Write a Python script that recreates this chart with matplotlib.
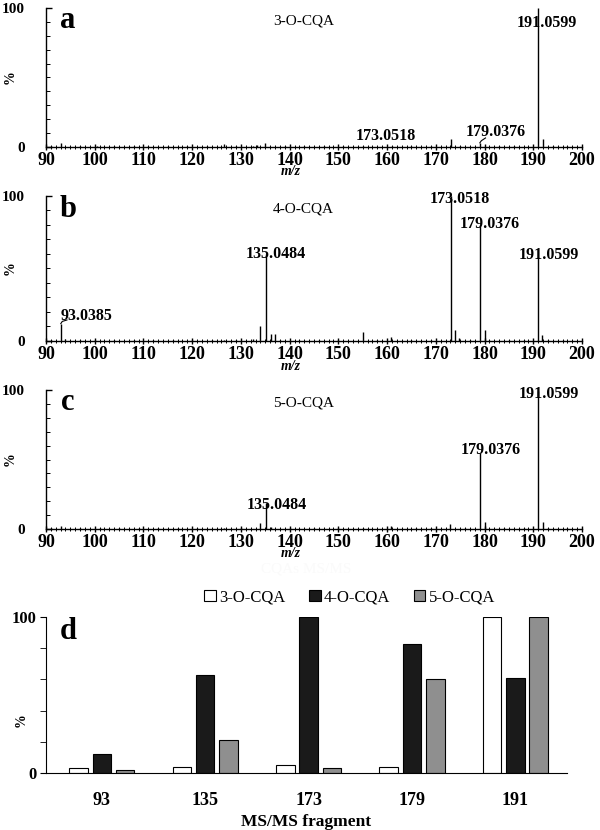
import matplotlib
matplotlib.use("Agg")
import matplotlib.pyplot as plt
from matplotlib.ticker import MultipleLocator, FixedLocator
from matplotlib.patches import Patch
import numpy as np

plt.rcParams['font.family'] = ['Liberation Serif', 'DejaVu Serif']

# ---------------- data ----------------
# panel a : 3-O-CQA
a_mz = [91.0, 93.0, 97.0, 100.5, 104.0, 108.0, 111.0, 115.0, 119.0, 123.0, 126.5, 129.0,
        132.5, 133.2, 135.0, 139.0, 143.0, 147.0, 151.0, 155.0, 161.0, 165.0, 169.0,
        173.05, 175.0, 179.04, 183.0, 186.0, 191.06, 192.0, 194.0, 197.0]
a_int = [0.6, 2.7, 0.5, 0.6, 0.5, 0.8, 0.6, 0.5, 0.6, 0.5, 2.0, 0.6,
         1.0, 1.5, 3.0, 0.5, 0.6, 0.5, 0.6, 1.0, 1.0, 0.6, 0.5,
         5.5, 0.8, 3.0, 0.6, 0.5, 100.0, 6.0, 0.8, 0.5]

# panel b : 4-O-CQA
b_mz = [91.0, 93.04, 94.0, 97.0, 100.0, 104.0, 108.0, 112.0, 116.0, 120.0, 124.0, 126.5,
        129.0, 132.5, 133.9, 135.05, 136.1, 137.0, 138.0, 142.0, 146.0, 150.0, 155.0,
        158.0, 160.9, 165.0, 169.0, 173.05, 174.0, 174.8, 177.0, 179.04, 180.0, 181.0,
        185.0, 188.0, 191.06, 191.8, 193.0, 196.0]
b_int = [0.8, 12.0, 1.2, 0.6, 0.6, 0.8, 0.7, 0.6, 0.6, 0.7, 0.6, 1.0,
         0.7, 1.2, 10.0, 60.0, 5.0, 5.0, 1.0, 0.6, 0.7, 0.6, 6.5,
         0.8, 3.0, 0.6, 0.8, 100.0, 7.5, 2.0, 0.7, 80.0, 7.5, 1.0,
         0.7, 0.6, 58.0, 4.0, 1.0, 0.6]

# panel c : 5-O-CQA
c_mz = [91.0, 93.0, 97.0, 101.0, 105.0, 109.0, 113.0, 117.0, 121.0, 126.5, 130.0,
        133.9, 135.05, 136.1, 140.0, 145.0, 150.0, 155.0, 160.9, 166.0, 169.0, 173.0,
        176.0, 179.04, 180.0, 184.0, 188.0, 191.06, 191.9, 193.0, 197.0]
c_int = [0.5, 2.0, 0.5, 0.6, 0.5, 0.6, 0.5, 0.6, 0.5, 1.0, 0.6,
         4.0, 18.5, 1.5, 0.5, 0.6, 0.5, 1.0, 2.0, 0.5, 0.6, 3.5,
         0.6, 55.0, 5.0, 0.6, 0.5, 99.0, 5.0, 1.0, 0.5]

# peak labels: (text, x, y)
a_labels = [("191.0599", 192.8, 89), ("173.0518", 159.7, 8), ("179.0376", 182.3, 11)]
b_labels = [("173.0518", 175.0, 98), ("179.0376", 181.1, 81), ("135.0484", 137.2, 60),
            ("191.0599", 193.1, 59), ("93.0385", 98.3, 17)]
c_labels = [("191.0599", 193.3, 97), ("179.0376", 181.2, 57), ("135.0484", 137.4, 17)]

# panel d
fragments = ["93", "135", "173", "179", "191"]
cqa3 = [3, 4, 5, 4, 100]
cqa4 = [12, 63, 100, 83, 61]
cqa5 = [2, 21, 3, 60, 100]
series_names = ["3-O-CQA", "4-O-CQA", "5-O-CQA"]

# ---------------- figure ----------------
W, H = 600, 830
fig = plt.figure(figsize=(W / 100, H / 100), dpi=100)


def ax_px(left, right, top, bottom):
    return fig.add_axes([left / W, 1 - bottom / H, (right - left) / W, (bottom - top) / H])


def spectrum(ax, mz, inten, labels, letter, name, leaders):
    ax.vlines(mz, 0, inten, color='black', lw=1.0)
    ax.set_xlim(90, 200)
    ax.set_ylim(0, 100)
    for s in ['top', 'right']:
        ax.spines[s].set_visible(False)
    ax.spines['left'].set_linewidth(1.0)
    ax.spines['bottom'].set_linewidth(1.0)
    ax.xaxis.set_major_locator(MultipleLocator(10))
    ax.xaxis.set_minor_locator(MultipleLocator(1))
    ax.yaxis.set_major_locator(FixedLocator([0, 100]))
    ax.yaxis.set_minor_locator(MultipleLocator(10))
    ax.tick_params(axis='x', which='major', direction='inout', length=5, width=1,
                   labelsize=13, pad=1)
    ax.tick_params(axis='x', which='minor', direction='inout', length=2.5, width=0.7)
    ax.tick_params(axis='y', which='major', direction='in', length=4, width=1,
                   labelsize=11, pad=15)
    ax.tick_params(axis='y', which='minor', direction='in', length=3, width=0.7)
    for t in ax.get_xticklabels() + ax.get_yticklabels():
        t.set_fontweight('bold')
    ax.set_ylabel('%', fontsize=10, fontweight='bold')
    ax.yaxis.set_label_coords(-0.054, 0.5)
    ax.set_xlabel('m/z', fontsize=10, fontweight='bold', style='italic')
    ax.xaxis.set_label_coords(0.456, -0.13)
    for txt, x, y in labels:
        ax.text(x, y, txt, ha='center', va='center', fontsize=11.5, fontweight='bold')
    for (x0, y0, x1, y1) in leaders:
        ax.plot([x0, x0 + 0.3, x1], [y0, y0 + 1.5, y1], color='black', lw=0.8)
    ax.text(94.5, 91, letter, ha='center', va='center', fontsize=22, fontweight='bold')
    ax.text(142.8, 91, name, ha='center', va='center', fontsize=11)


axa = ax_px(46, 582, 8, 147)
spectrum(axa, a_mz, a_int, a_labels, 'a', '3-O-CQA', [(179.04, 3.0, 180.2, 6.5)])
axb = ax_px(46, 582, 196, 341)
spectrum(axb, b_mz, b_int, b_labels, 'b', '4-O-CQA', [(93.04, 12.0, 94.3, 14.5)])
axc = ax_px(46, 582, 390, 529)
spectrum(axc, c_mz, c_int, c_labels, 'c', '5-O-CQA', [])

# panel d
axd = ax_px(46, 567, 617, 773)
x = np.arange(len(fragments))
bw = 0.18
off = 0.225
colors = ['white', '#1a1a1a', '#8f8f8f']
for i, (vals, col) in enumerate(zip([cqa3, cqa4, cqa5], colors)):
    axd.bar(x + (i - 1) * off, vals, width=bw, color=col, edgecolor='black', lw=0.8,
            zorder=2)
axd.set_xlim(-0.54, 4.5)
axd.set_ylim(0, 100)
for s in ['top', 'right']:
    axd.spines[s].set_visible(False)
axd.set_xticks(x)
axd.set_xticklabels(fragments, fontsize=13, fontweight='bold')
axd.tick_params(axis='x', length=0, pad=14)
axd.yaxis.set_major_locator(FixedLocator([0, 100]))
axd.yaxis.set_minor_locator(MultipleLocator(20))
axd.tick_params(axis='y', which='major', direction='out', length=4, labelsize=12, pad=3)
axd.tick_params(axis='y', which='minor', direction='out', length=4)
for t in axd.get_yticklabels():
    t.set_fontweight('bold')
axd.set_ylabel('%', fontsize=10, fontweight='bold')
axd.yaxis.set_label_coords(-0.036, 0.34)
axd.set_xlabel('MS/MS fragment', fontsize=12.5, fontweight='bold')
axd.xaxis.set_label_coords(0.5, -0.265)
axd.text(-0.32, 91, 'd', ha='center', va='center', fontsize=22, fontweight='bold')
axd.text(0.5, 1.31, 'CQAs MS/MS', transform=axd.transAxes, ha='center', va='center',
         fontsize=11, color='#fafafa')
handles = [Patch(facecolor=c, edgecolor='black', lw=0.8) for c in colors]
axd.legend(handles, series_names, ncol=3, loc='lower center', bbox_to_anchor=(0.583, 1.0),
           frameon=False, fontsize=12, handlelength=0.7, handleheight=0.7,
           handletextpad=0.2, columnspacing=1.4, borderaxespad=0.3)

fig.savefig('out.png', dpi=100)
